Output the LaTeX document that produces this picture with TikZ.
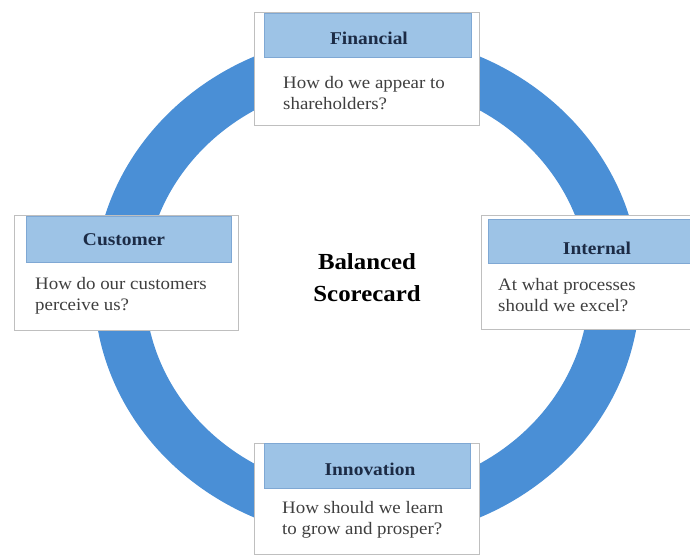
\documentclass[tikz,border=0pt]{standalone}
\usepackage{fontspec}
\setmainfont[FakeStretch=1.08]{Liberation Serif}
\definecolor{ringc}{HTML}{4A8FD6}
\definecolor{headc}{HTML}{9DC3E6}
\definecolor{headline}{HTML}{7FA8D4}
\definecolor{boxline}{HTML}{BFBFBF}
\definecolor{hdtext}{HTML}{1C2B45}
\definecolor{bodytext}{HTML}{3F3F3F}
\tikzset{
  outerbox/.style={draw=boxline, line width=1pt, fill=white, inner sep=0pt, anchor=north west},
  headbox/.style={draw=headline, line width=0.8pt, fill=headc, inner sep=0pt, anchor=north west},
  headtext/.style={anchor=base, inner sep=0pt, text=hdtext, font=\bfseries\fontsize{18}{20}\selectfont},
  bodytxt/.style={anchor=north west, inner sep=0pt, align=left, text=bodytext, font=\fontsize{17.5}{21}\selectfont},
  centertxt/.style={anchor=north, inner sep=0pt, align=center, text=black, font=\bfseries\fontsize{23}{32}\selectfont}
}
\begin{document}
\begin{tikzpicture}[x=1pt,y=-1pt]
\useasboundingbox (0,0) rectangle (690,556);
\clip (0,0) rectangle (690,556);
\fill[white] (0,0) rectangle (690,556);
% ring
\fill[ringc, even odd rule] (367,287) ellipse [x radius=273, y radius=253]
                           (367,287) ellipse [x radius=222, y radius=205];
% Financial
\node[outerbox, minimum width=225pt, minimum height=113pt] (finbox) at (254,12) {};
\node[headbox, minimum width=207pt, minimum height=44pt] (finhead) at (264,13) {};
\node[headtext] (fintitle) at (369,45) {Financial};
\node[bodytxt] (finbody) at (283,76) {How do we appear to\\shareholders?};
% Customer
\node[outerbox, minimum width=224pt, minimum height=115pt] (cusbox) at (14,215) {};
\node[headbox, minimum width=205pt, minimum height=46pt] (cushead) at (26,216) {};
\node[headtext] (custitle) at (124,245) {Customer};
\node[bodytxt] (cusbody) at (35,277) {How do our customers\\perceive us?};
% Internal
\node[outerbox, minimum width=233pt, minimum height=114pt] (intbox) at (481,215) {};
\node[headbox, minimum width=218pt, minimum height=44pt] (inthead) at (488,219) {};
\node[headtext] (inttitle) at (597,254) {Internal};
\node[bodytxt] (intbody) at (498,278) {At what processes\\should we excel?};
% Innovation
\node[outerbox, minimum width=225pt, minimum height=111pt] (innbox) at (254,443) {};
\node[headbox, minimum width=206pt, minimum height=45pt] (innhead) at (264,443) {};
\node[headtext] (inntitle) at (370,475) {Innovation};
\node[bodytxt] (innbody) at (282,501) {How should we learn\\to grow and prosper?};
% centre
\node[centertxt] (centre) at (367,253) {Balanced\\Scorecard};
\end{tikzpicture}
\end{document}
